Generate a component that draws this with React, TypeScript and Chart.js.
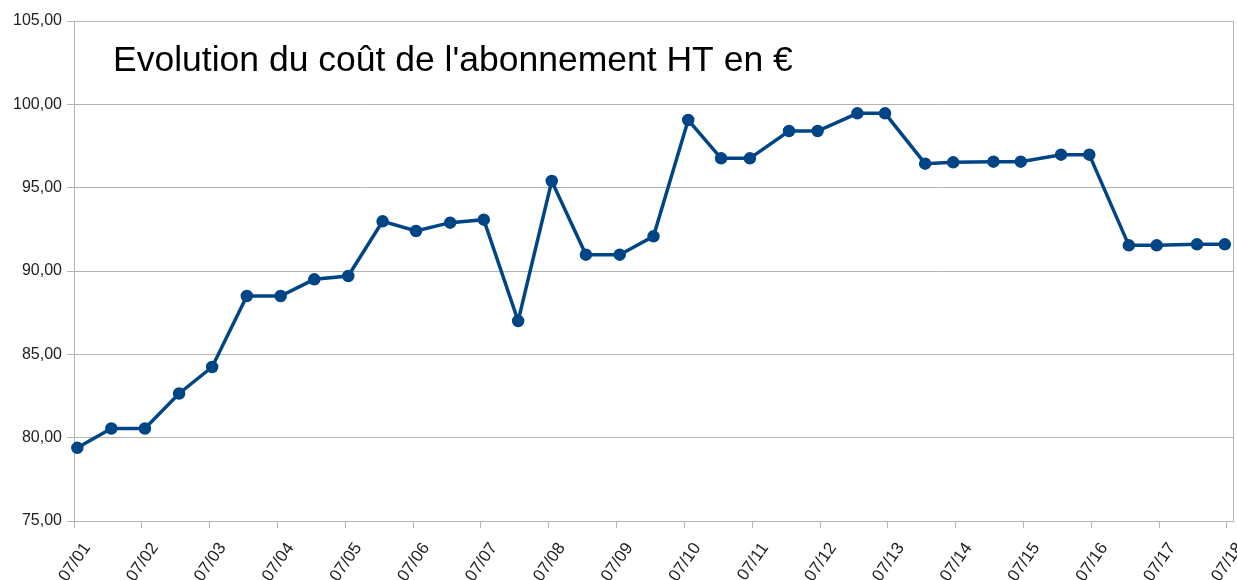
import React, { useEffect, useRef } from "react";
import { Chart, registerables } from "chart.js";

Chart.register(...registerables);

const titleText = "Evolution du coût de l'abonnement HT en €";

const dates = [
  "2001-07-19", "2002-01-18", "2002-07-18", "2003-01-18", "2003-07-15",
  "2004-01-18", "2004-07-18", "2005-01-15", "2005-07-17", "2006-01-18",
  "2006-07-17", "2007-01-17", "2007-07-17", "2008-01-18", "2008-07-17",
  "2009-01-17", "2009-07-18", "2010-01-16", "2010-07-22", "2011-01-15",
  "2011-06-19", "2012-01-16", "2012-06-18", "2013-01-18", "2013-06-16",
  "2014-01-18", "2014-06-18", "2015-01-21", "2015-06-17", "2016-01-20",
  "2016-06-20", "2017-01-19", "2017-06-18", "2018-01-21", "2018-06-20",
];

const values = [
  79.39, 80.55, 80.55, 82.65, 84.24,
  88.5, 88.5, 89.5, 89.7, 92.98,
  92.4, 92.9, 93.08, 87.0, 95.4,
  90.98, 90.98, 92.08, 99.06, 96.76,
  96.76, 98.4, 98.4, 99.46, 99.46,
  96.44, 96.52, 96.56, 96.56, 96.98,
  96.98, 91.54, 91.54, 91.6, 91.6,
];

const tickDates = [
  "2001-07-01", "2002-07-01", "2003-07-01", "2004-07-01", "2005-07-01",
  "2006-07-01", "2007-07-01", "2008-07-01", "2009-07-01", "2010-07-01",
  "2011-07-01", "2012-07-01", "2013-07-01", "2014-07-01", "2015-07-01",
  "2016-07-01", "2017-07-01", "2018-07-01",
];

const tickLabels = [
  "07/01", "07/02", "07/03", "07/04", "07/05", "07/06", "07/07", "07/08", "07/09",
  "07/10", "07/11", "07/12", "07/13", "07/14", "07/15", "07/16", "07/17", "07/18",
];

const xMinDate = "2001-07-01";
const xMaxDate = "2018-08-03";

const toDays = (s: string) => Date.parse(s + "T00:00:00Z") / 86400000;

const FONT = "'Liberation Sans', Arial, sans-serif";
const GRID = "#b3b3b3";
const LINE = "#004586";
const TEXT = "#222222";

const framePlugin = {
  id: "frameAndTitle",
  afterDraw(chart: any) {
    const { ctx, chartArea } = chart;
    ctx.save();
    ctx.strokeStyle = GRID;
    ctx.lineWidth = 1;
    const rx = Math.round(chartArea.right) + 0.5;
    ctx.beginPath();
    ctx.moveTo(rx, chartArea.top);
    ctx.lineTo(rx, chartArea.bottom);
    ctx.stroke();

    // rotated x tick labels
    const xs = chart.scales.x;
    ctx.fillStyle = TEXT;
    ctx.font = "17px " + FONT;
    ctx.textAlign = "right";
    ctx.textBaseline = "top";
    tickDates.forEach((d, i) => {
      const px = xs.getPixelForValue(toDays(d));
      ctx.save();
      ctx.translate(px + 6, chartArea.bottom + 19);
      ctx.rotate((-55 * Math.PI) / 180);
      ctx.fillText(tickLabels[i], 0, 0);
      ctx.restore();
    });

    ctx.fillStyle = "#000000";
    ctx.font = "35.5px " + FONT;
    ctx.textAlign = "left";
    ctx.textBaseline = "alphabetic";
    ctx.fillText(titleText, chartArea.left + 39, chartArea.top + 50);
    ctx.restore();
  },
};

export default function App() {
  const ref = useRef<HTMLCanvasElement | null>(null);

  useEffect(() => {
    if (!ref.current) return;
    const points = dates.map((d, i) => ({ x: toDays(d), y: values[i] }));
    const chart = new Chart(ref.current, {
      type: "line",
      data: {
        datasets: [
          {
            label: titleText,
            data: points,
            borderColor: LINE,
            backgroundColor: LINE,
            borderWidth: 3.5,
            pointRadius: 5.5,
            pointBorderWidth: 1.5,
            pointBackgroundColor: LINE,
            pointBorderColor: LINE,
            tension: 0,
            clip: false,
          } as any,
        ],
      },
      options: {
        animation: false,
        responsive: false,
        layout: { autoPadding: false, padding: { top: 21, right: 4, left: 0, bottom: 0 } },
        plugins: {
          legend: { display: false },
          title: { display: false },
          tooltip: { enabled: false },
        },
        scales: {
          x: {
            type: "linear",
            min: toDays(xMinDate),
            max: toDays(xMaxDate),
            afterBuildTicks: (scale: any) => {
              scale.ticks = tickDates.map((d) => ({ value: toDays(d) }));
            },
            afterFit: (scale: any) => {
              scale.height = 59;
              scale.paddingLeft = 0;
              scale.paddingRight = 0;
            },
            grid: {
              drawOnChartArea: false,
              color: GRID,
              tickLength: 7,
            },
            border: { color: GRID },
            ticks: {
              display: false,
              autoSkip: false,
            },
          },
          y: {
            min: 75,
            max: 105,
            afterFit: (scale: any) => {
              scale.width = 74;
              scale.paddingTop = 0;
              scale.paddingBottom = 0;
            },
            grid: { color: GRID, tickLength: 7 },
            border: { color: GRID },
            ticks: {
              stepSize: 5,
              color: TEXT,
              padding: 5,
              font: { family: FONT, size: 16 },
              callback: (v: any) => Number(v).toFixed(2).replace(".", ","),
            },
          },
        },
      },
      plugins: [framePlugin],
    });
    return () => chart.destroy();
  }, []);

  return (
    <div style={{ position: "fixed", left: 0, top: 0, width: 1237, height: 580, background: "#fff" }}>
      <canvas ref={ref} width={1237} height={580} />
    </div>
  );
}
